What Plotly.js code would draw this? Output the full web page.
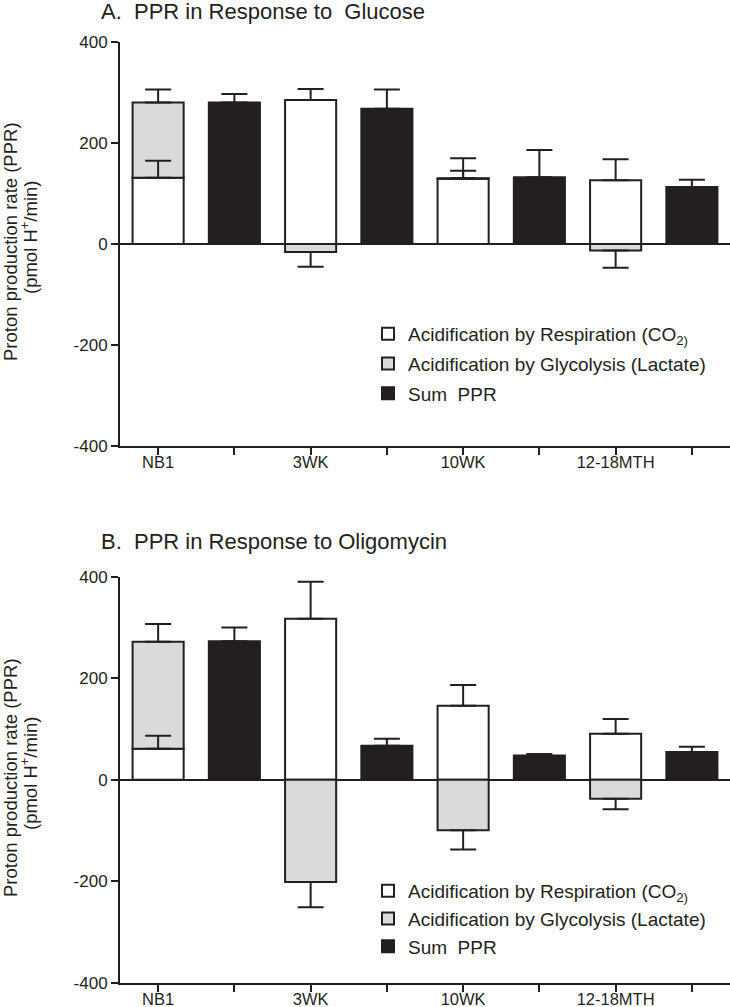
<!DOCTYPE html>
<html><head><meta charset="utf-8">
<script src="https://cdn.plot.ly/plotly-3.0.1.min.js"></script>
<style>html,body{margin:0;padding:0;background:#fff}#chart{width:730px;height:1007px}</style>
</head><body><div id="chart"></div>
<script>
// ---- data ----
const tickPositions = [0, 1, 2, 3, 4, 5, 6, 7];
const tickLabels = ['NB1', '', '3WK', '', '10WK', '', '12-18MTH', ''];
const yTickValues = [-400, -200, 0, 200, 400];
const yTickLabels = ['-400', '-200', '0', '200', '400'];
const componentPos = [0, 2, 4, 6];
const sumPos = [1, 3, 5, 7];
const seriesNames = ['Acidification by Respiration (CO<sub>2)</sub>', 'Acidification by Glycolysis (Lactate)', 'Sum  PPR'];

// Panel A: glucose
const glucRespiration = [131, 285, 129, 126];
const glucRespirationErr = [34, 22, 16, 42];
const glucGlycolysis = [149, -16, 1, -13];
const glucGlycolysisErr = [26, 29, 40, 34];
const glucSum = [280, 268, 132, 113];
const glucSumErr = [17, 38, 54, 14];

// Panel B: oligomycin
const oligoRespiration = [61, 317, 146, 91];
const oligoRespirationErr = [26, 73, 41, 29];
const oligoGlycolysis = [211, -201, -99, -37];
const oligoGlycolysisErr = [35, 50, 38, 21];
const oligoSum = [273, 67, 48, 55];
const oligoSumErr = [27, 14, 3, 10];

// ---- styles ----
const INK = '#231f20';
const GRAY = '#d9dadc';
const FONT = 'Liberation Sans, Arial, Helvetica, sans-serif';

function errUp(vals, errs) { return vals.map((v, i) => v >= 0 ? errs[i] : 0); }
function errDown(vals, errs) { return vals.map((v, i) => v < 0 ? errs[i] : 0); }
function eb(vals, errs) {
  return {type: 'data', symmetric: false, array: errUp(vals, errs), arrayminus: errDown(vals, errs),
          color: INK, thickness: 2, width: 13, visible: true};
}

function panel(xa, ya, legendId, resp, respErr, gly, glyErr, sum, sumErr) {
  return [
    {type: 'bar', x: componentPos, y: resp, xaxis: xa, yaxis: ya, name: seriesNames[0],
     legend: legendId, legendgroup: legendId + 'a',
     marker: {color: '#ffffff', line: {color: INK, width: 2}}, hoverinfo: 'y'},
    {type: 'bar', x: componentPos, y: gly, xaxis: xa, yaxis: ya, name: seriesNames[1],
     legend: legendId, legendgroup: legendId + 'b',
     marker: {color: GRAY, line: {color: INK, width: 2}}, error_y: eb(gly, glyErr), hoverinfo: 'y'},
    {type: 'bar', x: sumPos, y: sum, xaxis: xa, yaxis: ya, name: seriesNames[2],
     legend: legendId, legendgroup: legendId + 'c',
     marker: {color: INK, line: {color: INK, width: 2}}, error_y: eb(sum, sumErr), hoverinfo: 'y'},
    {type: 'scatter', mode: 'markers', x: componentPos, y: resp, xaxis: xa, yaxis: ya,
     showlegend: false, marker: {size: 1, opacity: 0}, error_y: eb(resp, respErr), hoverinfo: 'skip'}
  ];
}

const data = [].concat(
  panel('x', 'y', 'legend', glucRespiration, glucRespirationErr, glucGlycolysis, glucGlycolysisErr, glucSum, glucSumErr),
  panel('x2', 'y2', 'legend2', oligoRespiration, oligoRespirationErr, oligoGlycolysis, oligoGlycolysisErr, oligoSum, oligoSumErr)
);

const W = 730, H = 1007;
function xAxis(anchor) {
  return {domain: [120 / W, 1], range: [-0.5, 7.5], anchor: anchor, tickmode: 'array',
          tickvals: tickPositions, ticktext: tickLabels, ticks: 'outside', ticklen: 7, tickwidth: 2,
          ticklabelstandoff: -7,
          tickcolor: INK, showline: true, linecolor: INK, linewidth: 2, showgrid: false, zeroline: false,
          tickfont: {family: FONT, size: 16.5, color: INK}, automargin: false, fixedrange: true};
}
function yAxis(anchor, dom) {
  return {domain: dom, range: [-400, 400], anchor: anchor, tickmode: 'array',
          tickvals: yTickValues, ticktext: yTickLabels, ticks: 'outside', ticklen: 7, tickwidth: 2,
          tickcolor: INK, showline: true, linecolor: INK, linewidth: 2, showgrid: false,
          zeroline: true, zerolinecolor: INK, zerolinewidth: 2,
          tickfont: {family: FONT, size: 17, color: INK}, automargin: false, fixedrange: true};
}
function legendBox(topPx, gap) {
  return {x: 368 / W, y: 1 - topPx / H, xanchor: 'left', yanchor: 'top', bgcolor: 'rgba(0,0,0,0)',
          font: {family: FONT, size: 19, color: INK}, traceorder: 'grouped', tracegroupgap: gap,
          itemclick: false, itemdoubleclick: false};
}
function yTitleAnn(text, xPx, yPx) {
  return {xref: 'paper', yref: 'paper', x: xPx / W, y: 1 - yPx / H, xanchor: 'center', yanchor: 'middle',
          showarrow: false, textangle: -90, text: text, font: {family: FONT, size: 18.5, color: INK}};
}
const yTitle1 = 'Proton production rate (PPR)';
const yTitle2 = '(pmol H<sup>+</sup>/min)';
const layout = {
  width: W, height: H, margin: {l: 0, r: 0, t: 0, b: 0}, paper_bgcolor: '#fff', plot_bgcolor: '#fff',
  barmode: 'relative', bargap: 0.33, showlegend: true,
  font: {family: FONT, color: INK},
  xaxis: xAxis('y'),
  yaxis: yAxis('x', [1 - 446 / H, 1 - 42 / H]),
  xaxis2: xAxis('y2'),
  yaxis2: yAxis('x2', [1 - 983 / H, 1 - 576.7 / H]),
  legend: legendBox(315, 2),
  legend2: legendBox(872, 0),
  annotations: [
    {xref: 'paper', yref: 'paper', x: 99 / W, y: 1 - 11 / H, xanchor: 'left', yanchor: 'middle', showarrow: false,
     text: 'A.\u00a0 PPR in Response to\u00a0 Glucose', font: {family: FONT, size: 22, color: INK}},
    {xref: 'paper', yref: 'paper', x: 99 / W, y: 1 - 541 / H, xanchor: 'left', yanchor: 'middle', showarrow: false,
     text: 'B.\u00a0 PPR in Response to Oligomycin', font: {family: FONT, size: 22, color: INK}},
    yTitleAnn(yTitle1, 10, 242),
    yTitleAnn(yTitle2, 29, 238),
    yTitleAnn(yTitle1, 10, 778),
    yTitleAnn(yTitle2, 29, 774)
  ]
};
Plotly.newPlot('chart', data, layout, {displayModeBar: false, staticPlot: true});
</script>
</body></html>
